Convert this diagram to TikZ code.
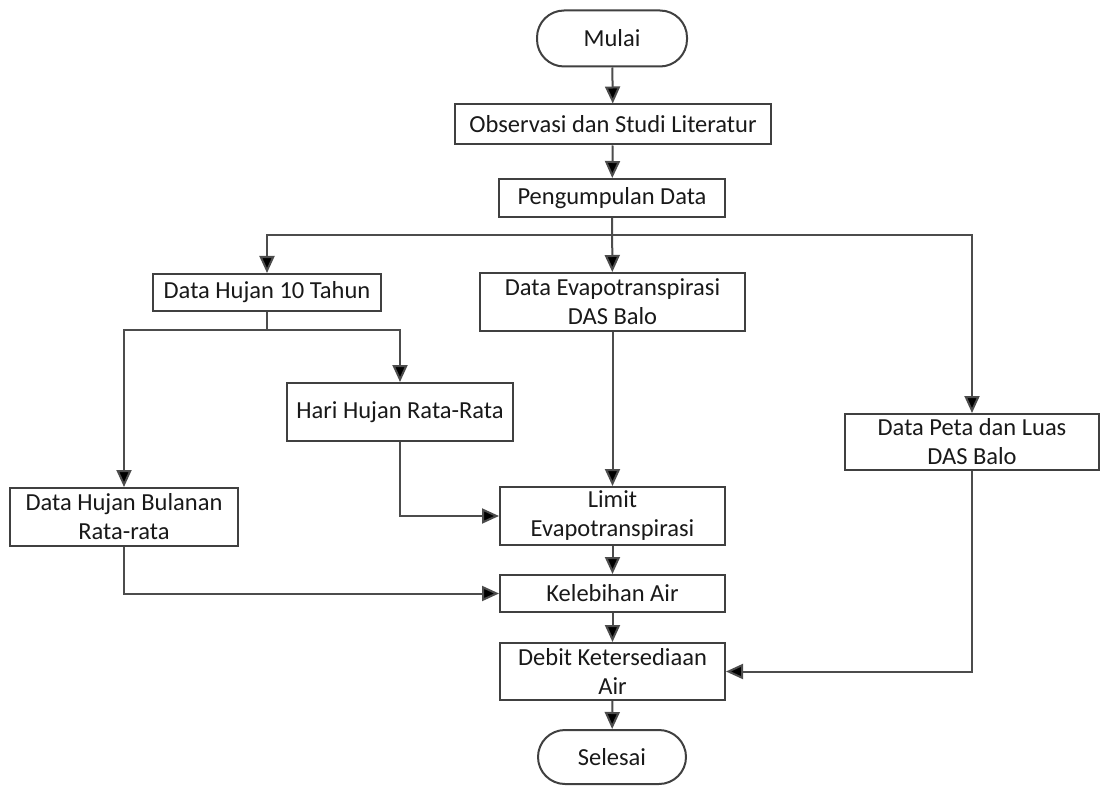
\documentclass[tikz,border=0pt]{standalone}
\usepackage{fontspec}
\setmainfont{Carlito}
\usetikzlibrary{arrows.meta,calc}
\begin{document}
\begin{tikzpicture}[x=1pt,y=-1pt,
  box/.style={draw=black!75,line width=2pt,fill=white,align=center,inner sep=2pt,
    font=\fontsize{24.5}{29}\selectfont,text=black!90},
  term/.style={box,rounded corners=27pt},
  arr/.style={draw=black!70,line width=2pt,-{Triangle[length=17pt,width=15pt,fill=black]}},
  ln/.style={draw=black!70,line width=2pt}]
\useasboundingbox (0,0) rectangle (1102,786);
\node[term,minimum width=150pt,minimum height=56pt] (mulai) at (612,38.5) {Mulai};
\node[box,minimum width=316pt,minimum height=40pt] (obs) at (613,124.5) {Observasi dan Studi Literatur};
\node[box,minimum width=226pt,minimum height=38pt] (peng) at (612,198) {Pengumpulan Data};
\node[box,minimum width=228pt,minimum height=37pt] (h10) at (267,292.5) {Data Hujan 10 Tahun};
\node[box,minimum width=265pt,minimum height=58pt] (evapo) at (612.5,302) {Data Evapotranspirasi\\DAS Balo};
\node[box,minimum width=226pt,minimum height=58pt] (hari) at (400,412) {Hari Hujan Rata-Rata};
\node[box,minimum width=254pt,minimum height=56pt] (peta) at (972,442) {Data Peta dan Luas\\DAS Balo};
\node[box,minimum width=228pt,minimum height=58pt] (bul) at (124,517) {Data Hujan Bulanan\\Rata-rata};
\node[box,minimum width=225pt,minimum height=58pt] (limit) at (612.5,516) {Limit\\Evapotranspirasi};
\node[box,minimum width=225pt,minimum height=37pt] (keleb) at (612.5,593.5) {Kelebihan Air};
\node[box,minimum width=225pt,minimum height=57pt] (debit) at (612.5,671.5) {Debit Ketersediaan\\Air};
\node[term,minimum width=148pt,minimum height=54pt] (selesai) at (612,757) {Selesai};
\coordinate (br) at (612,235);
\coordinate (br2) at (267,330);
\draw[arr] (mulai) -- (obs);
\draw[arr] (obs) -- (peng);
\draw[arr] (peng) -- (evapo);
\draw[arr] (br) -| (h10.north);
\draw[arr] (br) -| (peta.north);
\draw[ln] (h10.south) -- (br2);
\draw[arr] (br2) -| (bul.north);
\draw[arr] (br2) -| (hari.north);
\draw[arr] (hari.south) |- (limit.west);
\draw[arr] (evapo) -- (limit);
\draw[arr] (bul.south) |- (keleb.west);
\draw[arr] (limit) -- (keleb);
\draw[arr] (keleb) -- (debit);
\draw[arr] (debit) -- (selesai);
\draw[arr] (peta.south) |- (debit.east);
\end{tikzpicture}
\end{document}
